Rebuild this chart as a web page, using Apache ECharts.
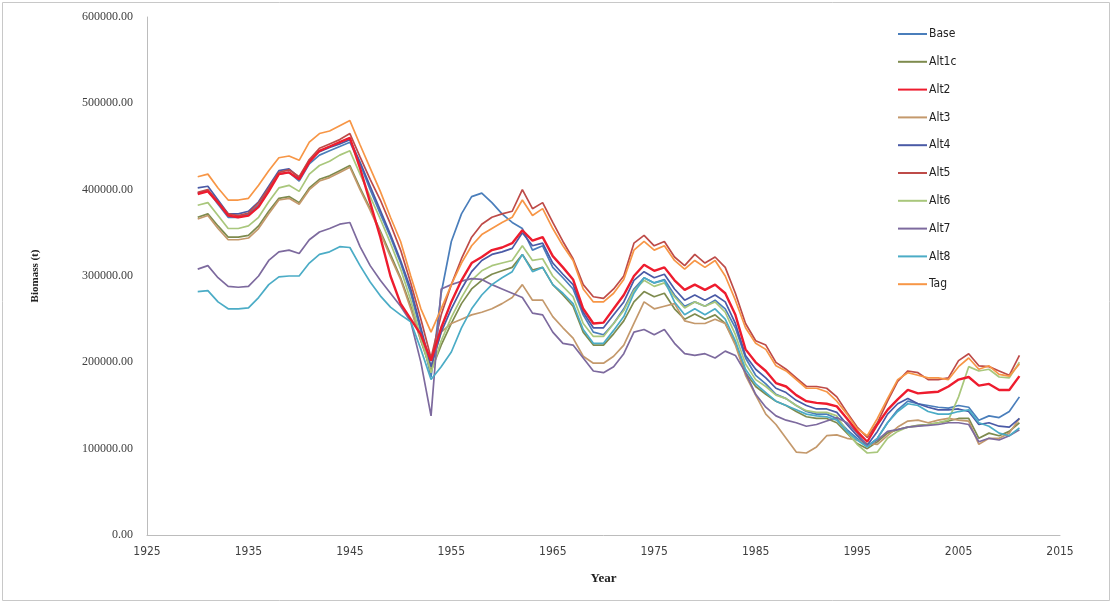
<!DOCTYPE html>
<html>
<head>
<meta charset="utf-8">
<script src="https://cdn.jsdelivr.net/npm/echarts@6/dist/echarts.min.js"></script>
<style>
html,body{margin:0;padding:0;background:#fff;}
#chart{width:1117px;height:604px;}
</style>
</head>
<body>
<div id="chart"></div>
<script>
// Years 1930..2011
var years = [];
for (var y = 1930; y <= 2011; y++) years.push(y);

// Biomass values in thousands of tonnes
var base_kt = [
396,399,383,368,368,372,382,400,418,420,
410,430,440,445,450,455,430,400,372,345,
315,280,235,183,280,340,372,392,396,385,
372,362,355,330,335,310,298,285,255,235,
232,245,262,285,298,292,296,278,265,270,
265,272,262,240,205,185,175,163,158,150,
143,140,140,135,122,112,103,112,130,145,
155,152,150,148,147,150,148,133,138,136,
143,160];
var alt1c_kt = [
368,372,358,345,345,347,358,375,390,392,
385,402,412,416,422,428,402,378,352,325,
298,265,225,190,220,245,268,285,295,302,
306,310,325,307,310,290,278,265,235,220,
220,233,248,270,282,276,280,262,250,256,
250,255,245,222,188,172,163,155,150,143,
137,135,135,130,118,106,100,108,118,122,
125,127,128,130,132,135,135,112,118,115,
120,130];
var alt2_kt = [
395,398,385,370,368,370,380,398,418,420,
412,432,445,450,455,460,425,385,345,300,
268,250,232,202,240,270,295,315,322,330,
333,338,353,341,345,323,310,296,262,245,
246,262,278,300,313,306,310,295,284,290,
284,290,280,255,215,200,190,176,172,162,
155,153,152,149,135,120,108,128,145,157,
168,164,165,166,172,180,183,173,175,168,
168,184];
var alt3_kt = [
366,370,355,342,342,344,355,372,388,390,
383,400,410,414,420,426,400,376,350,322,
296,262,225,195,235,245,250,255,258,262,
268,275,290,272,272,253,240,228,207,199,
199,207,220,245,270,262,265,268,248,245,
245,250,245,220,185,162,140,128,112,96,
95,102,115,116,112,110,106,105,115,125,
132,133,130,133,135,133,132,105,112,112,
118,135];
var alt4_kt = [
402,404,388,372,372,375,386,404,422,424,
414,434,444,449,453,458,432,404,376,348,
318,285,240,195,235,262,285,305,318,325,
328,332,350,335,338,315,302,290,258,240,
240,255,270,295,305,298,302,285,272,278,
272,278,270,245,208,192,182,170,165,156,
150,146,146,142,128,115,104,120,140,152,
158,152,148,145,145,146,143,128,130,126,
125,135];
var alt5_kt = [
397,400,386,372,370,373,385,402,420,423,
415,435,448,453,458,465,438,412,388,360,
330,292,250,205,255,290,320,345,360,368,
372,375,400,378,385,362,340,320,290,276,
274,285,300,338,347,335,340,322,312,325,
315,322,310,280,245,225,220,200,192,182,
172,172,170,160,142,125,113,130,155,178,
190,188,180,180,182,202,210,196,195,190,
185,208];
var alt6_kt = [
382,385,370,355,355,358,368,386,402,405,
398,418,428,433,440,445,418,392,366,338,
308,272,228,188,225,252,275,295,306,312,
315,318,335,318,320,300,288,276,245,230,
230,245,260,283,295,288,292,276,263,270,
265,270,258,232,198,180,172,162,158,150,
144,142,142,138,120,105,95,96,112,120,
125,126,128,130,133,160,195,190,192,183,
182,200];
var alt7_kt = [
308,312,298,288,287,288,300,318,328,330,
326,342,351,355,360,362,334,312,295,280,
265,247,200,138,285,290,294,297,296,290,
285,280,275,257,255,235,222,220,205,190,
188,195,210,235,238,232,238,222,210,208,
210,205,213,208,188,163,148,138,133,130,
126,128,132,136,130,118,103,110,120,122,
125,126,127,128,130,130,128,108,112,110,
115,122];
var alt8_kt = [
282,283,270,262,262,263,275,290,299,300,
300,315,325,328,334,333,312,293,277,264,
255,247,215,180,195,212,240,262,278,290,
298,305,325,305,310,290,280,268,238,222,
222,237,253,280,298,292,295,270,255,262,
255,262,250,225,192,175,165,155,150,145,
140,138,137,133,120,110,102,112,130,143,
152,150,143,140,140,143,145,130,126,118,
115,124];
var tag_kt = [
415,418,402,388,388,390,405,422,437,439,
434,455,465,468,474,480,452,425,398,368,
340,300,262,235,262,290,315,335,348,355,
362,368,388,370,378,355,335,318,285,270,
270,280,296,330,340,330,335,318,308,318,
310,318,300,272,240,222,215,196,190,180,
170,170,166,155,140,123,115,135,158,180,
188,185,182,182,180,195,205,192,196,186,
184,198];

var seriesNames = ['Base','Alt1c','Alt2','Alt3','Alt4','Alt5','Alt6','Alt7','Alt8','Tag'];
var seriesValues = [base_kt, alt1c_kt, alt2_kt, alt3_kt, alt4_kt, alt5_kt, alt6_kt, alt7_kt, alt8_kt, tag_kt];
var seriesColors = ['#4A7EBB','#7E8B4E','#EE1C2E','#C4996C','#4A5AA6','#BE4B48','#A9C77C','#7D6A9E','#4BACC6','#F79646'];
var seriesWidths = [1.7,1.7,2.4,1.7,1.7,1.7,1.7,1.7,1.7,1.7];

var series = seriesNames.map(function (name, i) {
  return {
    name: name,
    type: 'line',
    showSymbol: false,
    symbol: 'none',
    silent: true,
    z: i === 2 ? 5 : 2,
    lineStyle: { color: seriesColors[i], width: seriesWidths[i] },
    itemStyle: { color: seriesColors[i] },
    data: seriesValues[i].map(function (v, j) { return [years[j], v * 1000]; })
  };
});

var chart = echarts.init(document.getElementById('chart'), null, { renderer: 'canvas' });
chart.setOption({
  animation: false,
  backgroundColor: '#ffffff',
  graphic: [{
    type: 'rect',
    shape: { x: 2.5, y: 2.5, width: 1107, height: 598 },
    style: { fill: 'none', stroke: '#c8c8c8', lineWidth: 1 },
    silent: true
  }],
  grid: { left: 147, right: 57, top: 17, bottom: 69, containLabel: false },
  legend: {
    orient: 'vertical',
    left: 898,
    top: 28,
    padding: 0,
    itemWidth: 29,
    itemHeight: 2,
    itemGap: 15.8,
    icon: 'rect',
    data: seriesNames,
    textStyle: { fontFamily: 'Liberation Sans Narrow, DejaVu Sans Condensed, Liberation Sans, sans-serif', fontSize: 12, color: '#222', padding: [0,0,0,-3] }
  },
  xAxis: {
    type: 'value',
    min: 1925,
    max: 2015,
    interval: 10,
    name: 'Year',
    nameLocation: 'middle',
    nameGap: 37,
    nameTextStyle: { fontFamily: 'Liberation Serif, serif', fontWeight: 'bold', fontSize: 13, color: '#222' },
    axisLine: { show: true, onZero: false, lineStyle: { color: '#bcbcbc', width: 1 } },
    axisTick: { show: false },
    splitLine: { show: false },
    axisLabel: { margin: 11, fontFamily: 'Liberation Sans Narrow, DejaVu Sans Condensed, Liberation Sans, sans-serif', fontSize: 12, color: '#404040', formatter: function (v) { return String(v); } }
  },
  yAxis: {
    type: 'value',
    min: 0,
    max: 600000,
    interval: 100000,
    name: 'Biomass (t)',
    nameLocation: 'middle',
    nameGap: 106,
    nameTextStyle: { fontFamily: 'Liberation Serif, serif', fontWeight: 'bold', fontSize: 11, color: '#222' },
    axisLine: { show: true, lineStyle: { color: '#bcbcbc', width: 1 } },
    axisTick: { show: false },
    splitLine: { show: false },
    axisLabel: { margin: 14, fontFamily: 'Liberation Serif, serif', fontSize: 12, color: '#404040', formatter: function (v) { return v.toFixed(2); } }
  },
  series: series
});
</script>
</body>
</html>
